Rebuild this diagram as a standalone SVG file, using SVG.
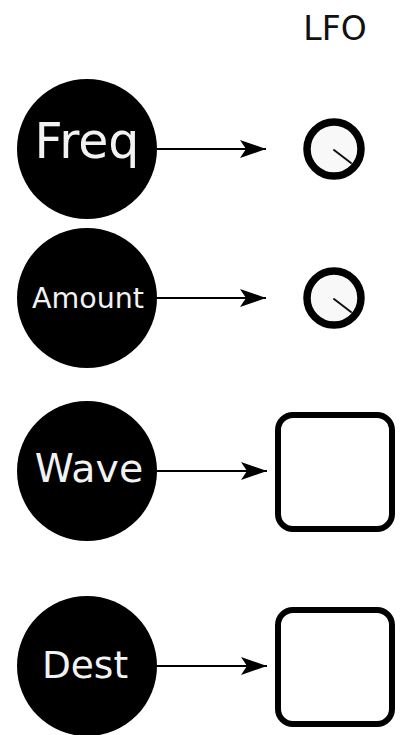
<svg xmlns="http://www.w3.org/2000/svg" width="405" height="735" viewBox="0 0 405 735">
  <style>
    .src circle { fill: #000; }
    .src text { fill: #f2f2f2; font-family: "DejaVu Sans", sans-serif; text-anchor: middle; }
    .knob circle { fill: #f8f8f8; stroke: #000; stroke-width: 7.5; }
    .knob line { stroke: #111; stroke-width: 2; stroke-linecap: round; }
    .box rect { fill: #fff; stroke: #000; stroke-width: 6; }
    .links line { stroke: #000; stroke-width: 2; marker-end: url(#arrow); }
    .title { font-family: "DejaVu Sans", sans-serif; font-size: 33px; fill: #111; text-anchor: middle; }
  </style>
  <defs>
    <marker id="arrow" viewBox="0 0 26 18" refX="26" refY="9" markerWidth="26" markerHeight="18" markerUnits="userSpaceOnUse" orient="auto">
      <path d="M0,0 L26,9 L0,18 L6,9 Z" fill="#000"/>
    </marker>
  </defs>
  <rect width="405" height="735" fill="#fff"/>

  <text class="title" x="335" y="40">LFO</text>

  <!-- source nodes -->
  <g id="freq" class="src">
    <circle cx="87" cy="149" r="70"/>
    <text x="87" y="158" font-size="49">Freq</text>
  </g>
  <g id="amount" class="src">
    <circle cx="87" cy="298" r="70"/>
    <text x="88" y="308" font-size="28.5">Amount</text>
  </g>
  <g id="wave" class="src">
    <circle cx="87" cy="471" r="70"/>
    <text x="89" y="482" font-size="39.5">Wave</text>
  </g>
  <g id="dest" class="src">
    <circle cx="87" cy="666" r="70"/>
    <text x="85" y="678" font-size="37.5">Dest</text>
  </g>

  <!-- LFO controls -->
  <g id="freq-knob" class="knob">
    <circle cx="334" cy="149" r="27"/>
    <line x1="334" y1="150" x2="351" y2="163"/>
  </g>
  <g id="amount-knob" class="knob">
    <circle cx="334" cy="298" r="27"/>
    <line x1="334" y1="299" x2="351" y2="312"/>
  </g>
  <g id="wave-select" class="box">
    <rect x="278" y="415" width="114" height="114" rx="15"/>
  </g>
  <g id="dest-select" class="box">
    <rect x="278" y="610" width="114" height="114" rx="15"/>
  </g>

  <!-- connectors -->
  <g id="connectors" class="links">
    <line x1="157" y1="149" x2="266" y2="149"/>
    <line x1="157" y1="298" x2="266" y2="298"/>
    <line x1="157" y1="471" x2="267" y2="471"/>
    <line x1="157" y1="666" x2="267" y2="666"/>
  </g>
</svg>
